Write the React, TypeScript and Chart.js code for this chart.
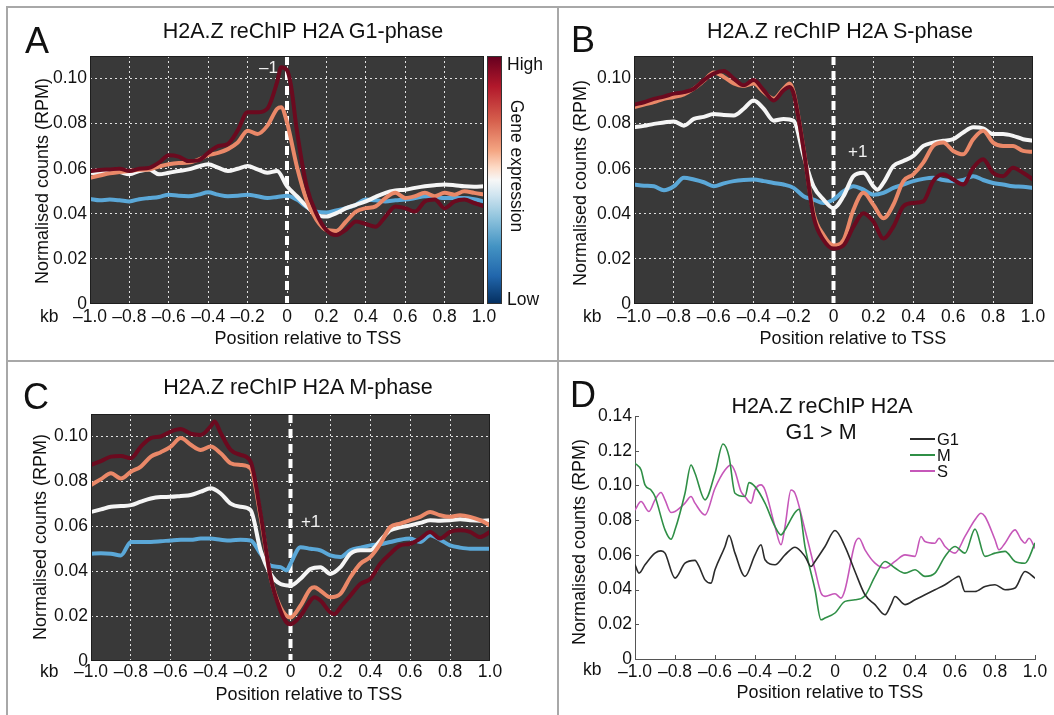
import React, { useEffect, useRef } from "react";
import { Chart, registerables } from "chart.js";

Chart.register(...registerables);

const FONT = '"Liberation Sans", Arial, Helvetica, sans-serif';
const TICK_SIZE = 17.5;
const AXIS_TITLE_SIZE = 18;

// ---------- tick values & labels ----------
const X_TICK_VALUES = [-1, -0.8, -0.6, -0.4, -0.2, 0, 0.2, 0.4, 0.6, 0.8, 1];
const X_TICK_LABELS = ["–1.0", "–0.8", "–0.6", "–0.4", "–0.2", "0", "0.2", "0.4", "0.6", "0.8", "1.0"];
const Y_TICK_VALUES_ABC = [0, 0.02, 0.04, 0.06, 0.08, 0.1];
const Y_TICK_LABELS_ABC = ["0", "0.02", "0.04", "0.06", "0.08", "0.10"];
const Y_TICK_VALUES_D = [0, 0.02, 0.04, 0.06, 0.08, 0.1, 0.12, 0.14];
const Y_TICK_LABELS_D = ["0", "0.02", "0.04", "0.06", "0.08", "0.10", "0.12", "0.14"];
const Y_MAX_ABC = 0.11;
const Y_MAX_D = 0.14;

const X_AXIS_TITLE = "Position relative to TSS";
const Y_AXIS_TITLE = "Normalised counts (RPM)";

// ---------- Panel A: G1-phase  [position kb, RPM] ----------
const A_HIGH = [[-1.0,0.059],[-0.95,0.0594],[-0.9,0.0597],[-0.85,0.060],[-0.8,0.059],[-0.75,0.060],[-0.7,0.0604],[-0.65,0.0627],[-0.6,0.066],[-0.55,0.0654],[-0.5,0.0634],[-0.45,0.0637],[-0.4,0.067],[-0.35,0.070],[-0.3,0.071],[-0.25,0.077],[-0.2,0.085],[-0.15,0.085],[-0.1,0.0866],[-0.05,0.0985],[-0.03,0.105],[0,0.1037],[0.02,0.097],[0.05,0.077],[0.1,0.052],[0.15,0.040],[0.2,0.0328],[0.25,0.0306],[0.3,0.033],[0.35,0.0366],[0.4,0.0355],[0.45,0.0343],[0.5,0.0388],[0.55,0.0433],[0.6,0.0425],[0.65,0.041],[0.7,0.0455],[0.75,0.0463],[0.8,0.0425],[0.85,0.0455],[0.9,0.0463],[0.95,0.0448],[1.0,0.0433]];
const A_MID = [[-1.0,0.056],[-0.95,0.057],[-0.9,0.058],[-0.85,0.0585],[-0.8,0.059],[-0.75,0.0595],[-0.7,0.0597],[-0.65,0.061],[-0.6,0.062],[-0.55,0.0625],[-0.5,0.0627],[-0.45,0.064],[-0.4,0.066],[-0.35,0.067],[-0.3,0.0687],[-0.25,0.0716],[-0.2,0.0769],[-0.15,0.0754],[-0.1,0.079],[-0.05,0.0866],[-0.03,0.0873],[0,0.0806],[0.05,0.061],[0.1,0.046],[0.15,0.0373],[0.2,0.0328],[0.25,0.0324],[0.3,0.0366],[0.35,0.041],[0.4,0.0425],[0.45,0.0433],[0.5,0.047],[0.55,0.0493],[0.6,0.047],[0.65,0.0478],[0.7,0.0493],[0.75,0.0478],[0.8,0.0493],[0.85,0.0485],[0.9,0.050],[0.95,0.0493],[1.0,0.0485]];
const A_NEUTRAL = [[-1.0,0.0582],[-0.95,0.058],[-0.9,0.059],[-0.85,0.0585],[-0.8,0.0575],[-0.75,0.059],[-0.7,0.0597],[-0.65,0.0575],[-0.6,0.0582],[-0.55,0.059],[-0.5,0.0597],[-0.45,0.061],[-0.4,0.062],[-0.35,0.0605],[-0.3,0.059],[-0.25,0.060],[-0.2,0.0612],[-0.15,0.0597],[-0.1,0.0582],[-0.05,0.059],[0,0.0522],[0.05,0.0478],[0.1,0.0433],[0.15,0.0396],[0.2,0.0388],[0.25,0.0403],[0.3,0.0425],[0.35,0.044],[0.4,0.0455],[0.45,0.0475],[0.5,0.0493],[0.55,0.0503],[0.6,0.0507],[0.65,0.0515],[0.7,0.0522],[0.75,0.0527],[0.8,0.053],[0.85,0.0527],[0.9,0.0522],[0.95,0.052],[1.0,0.0522]];
const A_LOW = [[-1.0,0.0466],[-0.95,0.046],[-0.9,0.0463],[-0.85,0.046],[-0.8,0.0455],[-0.75,0.0465],[-0.7,0.047],[-0.65,0.0475],[-0.6,0.0485],[-0.55,0.048],[-0.5,0.0478],[-0.45,0.0485],[-0.4,0.0496],[-0.35,0.0485],[-0.3,0.0478],[-0.25,0.048],[-0.2,0.0485],[-0.15,0.0478],[-0.1,0.047],[-0.05,0.0475],[0,0.048],[0.05,0.0463],[0.1,0.043],[0.15,0.041],[0.2,0.0406],[0.25,0.0415],[0.3,0.0425],[0.35,0.044],[0.4,0.0463],[0.45,0.046],[0.5,0.0455],[0.55,0.046],[0.6,0.0463],[0.65,0.047],[0.7,0.0478],[0.75,0.0475],[0.8,0.047],[0.85,0.047],[0.9,0.047],[0.95,0.0465],[1.0,0.0455]];

// ---------- Panel B: S-phase ----------
const B_HIGH = [[-1.0,0.0884],[-0.95,0.0895],[-0.9,0.091],[-0.85,0.092],[-0.8,0.0933],[-0.75,0.094],[-0.7,0.0955],[-0.65,0.0993],[-0.6,0.1022],[-0.55,0.1033],[-0.5,0.100],[-0.45,0.097],[-0.4,0.0993],[-0.35,0.0948],[-0.3,0.0903],[-0.25,0.0948],[-0.22,0.0963],[-0.2,0.0933],[-0.15,0.0687],[-0.1,0.0388],[-0.05,0.0284],[0,0.0246],[0.05,0.026],[0.1,0.0343],[0.15,0.0403],[0.2,0.0366],[0.25,0.0291],[0.3,0.0343],[0.35,0.0433],[0.4,0.0448],[0.45,0.0455],[0.5,0.0545],[0.55,0.0575],[0.6,0.0552],[0.65,0.053],[0.7,0.0604],[0.75,0.0642],[0.8,0.0582],[0.85,0.0567],[0.9,0.0604],[0.95,0.0582],[1.0,0.0552]];
const B_MID = [[-1.0,0.0873],[-0.95,0.0885],[-0.9,0.0896],[-0.85,0.091],[-0.8,0.0918],[-0.75,0.093],[-0.7,0.0955],[-0.65,0.099],[-0.6,0.1027],[-0.55,0.1007],[-0.5,0.0978],[-0.45,0.0967],[-0.4,0.0978],[-0.35,0.094],[-0.3,0.091],[-0.25,0.0955],[-0.22,0.0978],[-0.2,0.094],[-0.15,0.0687],[-0.1,0.0403],[-0.05,0.0306],[0,0.026],[0.05,0.0284],[0.1,0.0418],[0.15,0.0493],[0.2,0.044],[0.25,0.038],[0.3,0.044],[0.35,0.0545],[0.4,0.0575],[0.45,0.0627],[0.5,0.0701],[0.55,0.0716],[0.6,0.0679],[0.65,0.0664],[0.7,0.0731],[0.75,0.0769],[0.8,0.0716],[0.85,0.0701],[0.9,0.0701],[0.95,0.0679],[1.0,0.0675]];
const B_NEUTRAL = [[-1.0,0.0784],[-0.95,0.079],[-0.9,0.0799],[-0.85,0.0805],[-0.8,0.081],[-0.75,0.0791],[-0.7,0.0821],[-0.65,0.083],[-0.6,0.0843],[-0.55,0.0838],[-0.5,0.0836],[-0.45,0.0866],[-0.4,0.0903],[-0.35,0.0866],[-0.3,0.0813],[-0.25,0.0821],[-0.2,0.0813],[-0.15,0.0657],[-0.1,0.0522],[-0.05,0.0463],[0,0.0425],[0.05,0.0478],[0.1,0.0567],[0.15,0.0582],[0.2,0.0522],[0.22,0.0507],[0.25,0.0537],[0.3,0.0612],[0.35,0.0634],[0.4,0.0657],[0.45,0.0701],[0.5,0.0716],[0.55,0.0724],[0.6,0.0731],[0.65,0.0761],[0.7,0.0784],[0.75,0.0779],[0.8,0.0754],[0.85,0.0754],[0.9,0.0746],[0.95,0.0731],[1.0,0.0724]];
const B_LOW = [[-1.0,0.053],[-0.95,0.0525],[-0.9,0.0522],[-0.85,0.0504],[-0.8,0.0522],[-0.75,0.056],[-0.7,0.0552],[-0.65,0.054],[-0.6,0.0522],[-0.55,0.0535],[-0.5,0.0545],[-0.45,0.055],[-0.4,0.0552],[-0.35,0.0545],[-0.3,0.0537],[-0.25,0.053],[-0.2,0.0515],[-0.15,0.0478],[-0.1,0.0463],[-0.05,0.0448],[0,0.0463],[0.05,0.05],[0.1,0.0522],[0.15,0.0507],[0.2,0.0485],[0.25,0.0493],[0.3,0.0515],[0.35,0.053],[0.4,0.0545],[0.45,0.0555],[0.5,0.056],[0.55,0.055],[0.6,0.0545],[0.65,0.055],[0.7,0.0567],[0.75,0.055],[0.8,0.0537],[0.85,0.053],[0.9,0.0522],[0.95,0.052],[1.0,0.0515]];

// ---------- Panel C: M-phase ----------
const C_HIGH = [[-1.0,0.0873],[-0.95,0.089],[-0.9,0.091],[-0.85,0.0913],[-0.8,0.0903],[-0.75,0.0955],[-0.7,0.0993],[-0.65,0.100],[-0.6,0.1022],[-0.55,0.1033],[-0.5,0.1012],[-0.45,0.1007],[-0.4,0.1045],[-0.38,0.1067],[-0.35,0.1015],[-0.3,0.094],[-0.25,0.0918],[-0.2,0.0888],[-0.15,0.0657],[-0.1,0.0373],[-0.05,0.0224],[-0.02,0.0172],[0,0.0164],[0.05,0.0201],[0.1,0.0269],[0.12,0.0284],[0.15,0.0269],[0.2,0.0216],[0.22,0.0209],[0.25,0.0239],[0.3,0.0291],[0.35,0.0343],[0.4,0.0366],[0.45,0.0433],[0.5,0.0478],[0.55,0.0515],[0.6,0.0522],[0.65,0.0545],[0.7,0.0575],[0.75,0.0545],[0.8,0.0575],[0.85,0.0582],[0.9,0.0575],[0.95,0.0552],[1.0,0.0575]];
const C_MID = [[-1.0,0.0784],[-0.95,0.081],[-0.9,0.0836],[-0.85,0.0813],[-0.8,0.0843],[-0.75,0.0866],[-0.7,0.091],[-0.65,0.093],[-0.6,0.0955],[-0.55,0.0993],[-0.5,0.0963],[-0.45,0.094],[-0.4,0.0955],[-0.35,0.0925],[-0.3,0.0881],[-0.25,0.0873],[-0.2,0.0858],[-0.15,0.0642],[-0.1,0.0373],[-0.05,0.0239],[0,0.0194],[0.05,0.0246],[0.1,0.0321],[0.12,0.0328],[0.15,0.0313],[0.2,0.0284],[0.25,0.0299],[0.3,0.0373],[0.35,0.0433],[0.4,0.0463],[0.45,0.0522],[0.5,0.0597],[0.55,0.0612],[0.6,0.0627],[0.65,0.0642],[0.7,0.0664],[0.75,0.0649],[0.8,0.0642],[0.85,0.0649],[0.9,0.0642],[0.95,0.0627],[1.0,0.0604]];
const C_NEUTRAL = [[-1.0,0.0664],[-0.95,0.0675],[-0.9,0.0687],[-0.85,0.069],[-0.8,0.0694],[-0.75,0.071],[-0.7,0.0724],[-0.65,0.073],[-0.6,0.0731],[-0.55,0.0735],[-0.5,0.0739],[-0.45,0.0754],[-0.4,0.0769],[-0.35,0.0746],[-0.3,0.0701],[-0.25,0.0687],[-0.2,0.0672],[-0.15,0.0493],[-0.1,0.0388],[-0.05,0.0343],[0,0.0336],[0.05,0.0366],[0.1,0.041],[0.15,0.0418],[0.2,0.0388],[0.25,0.0418],[0.3,0.0478],[0.35,0.0493],[0.4,0.0493],[0.45,0.0537],[0.5,0.0582],[0.55,0.0595],[0.6,0.0604],[0.65,0.0615],[0.7,0.0627],[0.75,0.0625],[0.8,0.0627],[0.85,0.0631],[0.9,0.0627],[0.95,0.0625],[1.0,0.0627]];
const C_LOW = [[-1.0,0.0478],[-0.95,0.048],[-0.9,0.0478],[-0.85,0.047],[-0.8,0.053],[-0.75,0.053],[-0.7,0.053],[-0.65,0.0533],[-0.6,0.0537],[-0.55,0.054],[-0.5,0.054],[-0.45,0.0545],[-0.4,0.0545],[-0.35,0.054],[-0.3,0.0537],[-0.25,0.054],[-0.2,0.0537],[-0.15,0.0478],[-0.1,0.0425],[-0.05,0.0418],[-0.02,0.0403],[0,0.0433],[0.05,0.0507],[0.1,0.05],[0.15,0.0493],[0.2,0.047],[0.25,0.0463],[0.3,0.0493],[0.35,0.0505],[0.4,0.0515],[0.45,0.052],[0.5,0.053],[0.55,0.054],[0.6,0.0545],[0.65,0.053],[0.7,0.056],[0.75,0.054],[0.8,0.0515],[0.85,0.0505],[0.9,0.05],[0.95,0.05],[1.0,0.05]];

// ---------- Panel D: G1 > M ----------
const D_G1 = [[-1.0,0.0543],[-0.98,0.0495],[-0.95,0.0543],[-0.9,0.061],[-0.87,0.0623],[-0.85,0.061],[-0.8,0.0466],[-0.75,0.0552],[-0.7,0.0568],[-0.68,0.0533],[-0.65,0.0456],[-0.62,0.0437],[-0.6,0.0514],[-0.55,0.0648],[-0.53,0.0712],[-0.5,0.061],[-0.45,0.0476],[-0.4,0.060],[-0.37,0.0658],[-0.35,0.0572],[-0.3,0.0543],[-0.25,0.060],[-0.2,0.0644],[-0.15,0.0591],[-0.12,0.0533],[-0.1,0.0562],[-0.05,0.0648],[0,0.074],[0.05,0.0648],[0.1,0.0504],[0.15,0.037],[0.2,0.0313],[0.25,0.0255],[0.28,0.0313],[0.3,0.036],[0.35,0.0313],[0.4,0.0341],[0.45,0.037],[0.5,0.0399],[0.55,0.0428],[0.6,0.0466],[0.62,0.0476],[0.65,0.0389],[0.7,0.0389],[0.75,0.0418],[0.8,0.0428],[0.85,0.0399],[0.9,0.0409],[0.95,0.0504],[1.0,0.0466]];
const D_M = [[-1.0,0.1128],[-0.97,0.109],[-0.95,0.1003],[-0.92,0.0974],[-0.9,0.0936],[-0.85,0.0744],[-0.82,0.069],[-0.8,0.0744],[-0.75,0.0955],[-0.72,0.1118],[-0.7,0.107],[-0.65,0.0917],[-0.6,0.107],[-0.56,0.1239],[-0.53,0.1166],[-0.5,0.0955],[-0.45,0.0936],[-0.43,0.1016],[-0.4,0.0993],[-0.35,0.0898],[-0.3,0.0763],[-0.27,0.0715],[-0.25,0.0744],[-0.2,0.0844],[-0.18,0.0863],[-0.15,0.0648],[-0.1,0.0399],[-0.07,0.0226],[-0.05,0.0236],[0,0.0265],[0.05,0.0332],[0.1,0.0341],[0.15,0.0364],[0.2,0.0476],[0.25,0.0562],[0.3,0.0524],[0.35,0.0495],[0.4,0.0514],[0.45,0.0476],[0.5,0.0495],[0.55,0.0591],[0.6,0.0648],[0.65,0.061],[0.7,0.0748],[0.75,0.0591],[0.8,0.061],[0.85,0.062],[0.9,0.0562],[0.95,0.0552],[1.0,0.0667]];
const D_S = [[-1.0,0.0859],[-0.97,0.0907],[-0.93,0.085],[-0.9,0.0917],[-0.87,0.0959],[-0.85,0.0917],[-0.82,0.0844],[-0.8,0.085],[-0.75,0.0898],[-0.72,0.0936],[-0.7,0.0898],[-0.65,0.083],[-0.6,0.0984],[-0.55,0.1089],[-0.52,0.1118],[-0.5,0.108],[-0.47,0.0965],[-0.45,0.0936],[-0.42,0.0898],[-0.4,0.0974],[-0.37,0.1003],[-0.35,0.0974],[-0.3,0.0763],[-0.27,0.0658],[-0.25,0.0763],[-0.22,0.0974],[-0.2,0.0955],[-0.15,0.0744],[-0.1,0.0514],[-0.07,0.038],[-0.05,0.0361],[0,0.0376],[0.03,0.0351],[0.05,0.0399],[0.1,0.0667],[0.12,0.0696],[0.15,0.0629],[0.2,0.0552],[0.25,0.0524],[0.3,0.0562],[0.35,0.060],[0.4,0.0591],[0.43,0.0706],[0.45,0.0677],[0.5,0.0667],[0.52,0.0696],[0.55,0.0648],[0.6,0.061],[0.65,0.0706],[0.7,0.0802],[0.73,0.084],[0.75,0.0821],[0.8,0.0687],[0.82,0.0629],[0.85,0.0667],[0.9,0.0744],[0.93,0.069],[0.95,0.0667],[0.97,0.0696],[1.0,0.0639]];

// ---------- colours ----------
const COL_HIGH = "#6b0a1f";
const COL_MID = "#ea8868";
const COL_NEUTRAL = "#f5f5f5";
const COL_LOW = "#5ba8d8";
const COL_G1 = "#2b2b2b";
const COL_M = "#2f8f46";
const COL_S = "#c657b9";

const darkPlotPlugin = {
  id: "darkPlot",
  beforeDraw(chart: any) {
    const { ctx, chartArea: a } = chart;
    ctx.save();
    ctx.fillStyle = "#393939";
    ctx.fillRect(a.left, a.top, a.right - a.left, a.bottom - a.top);
    ctx.restore();
  },
  beforeDatasetsDraw(chart: any) {
    const { ctx, chartArea: a } = chart;
    const x0 = chart.scales.x.getPixelForValue(0);
    ctx.save();
    ctx.strokeStyle = "#ffffff";
    ctx.lineWidth = 4;
    ctx.setLineDash([9, 6]);
    ctx.beginPath();
    ctx.moveTo(x0, a.top);
    ctx.lineTo(x0, a.bottom);
    ctx.stroke();
    ctx.restore();
  },
  afterDraw(chart: any) {
    const { ctx, chartArea: a } = chart;
    ctx.save();
    ctx.strokeStyle = "#1e1e1e";
    ctx.lineWidth = 1;
    ctx.strokeRect(a.left + 0.5, a.top + 0.5, a.right - a.left - 1, a.bottom - a.top - 1);
    ctx.restore();
  },
};

const innerTicksPlugin = {
  id: "innerTicks",
  afterDraw(chart: any) {
    const { ctx, chartArea: a, scales } = chart;
    ctx.save();
    ctx.strokeStyle = "#555";
    ctx.lineWidth = 1;
    ctx.beginPath();
    scales.y.ticks.forEach((t: any) => {
      const y = Math.round(scales.y.getPixelForValue(t.value)) + 0.5;
      ctx.moveTo(a.left, y);
      ctx.lineTo(a.left + 4, y);
    });
    scales.x.ticks.forEach((t: any) => {
      const x = Math.round(scales.x.getPixelForValue(t.value)) + 0.5;
      ctx.moveTo(x, a.bottom);
      ctx.lineTo(x, a.bottom - 4);
    });
    ctx.stroke();
    ctx.restore();
  },
};

type Series = { data: number[][]; color: string; width: number };
type PanelSpec = {
  canvas: { left: number; top: number; width: number; height: number };
  area: { L: number; T: number; R: number; B: number };
  dark: boolean;
  yMax: number;
  yTicks: number[];
  yLabels: string[];
  xTickY: number;
  series: Series[];
};

const X_AXIS_H = 50;

function PanelChart({ spec }: { spec: PanelSpec }) {
  const ref = useRef<HTMLCanvasElement | null>(null);
  const cv = spec.canvas;
  useEffect(() => {
    const a = spec.area;
    const yAxisWidth = a.L - cv.left;
    const padTop = a.T - cv.top;
    const padRight = cv.left + cv.width - a.R;
    const padBottom = cv.top + cv.height - a.B - X_AXIS_H;
    const tickLH = TICK_SIZE * 1.2;
    const xTickPad = spec.xTickY - a.B - tickLH / 2;

    const gridOpts = spec.dark
      ? { display: true, color: "rgba(255,255,255,0.85)", lineWidth: 1, drawTicks: false }
      : { display: false, drawTicks: false };
    const borderOpts = spec.dark
      ? { display: false, dash: [2, 3] }
      : { display: true, color: "#555", width: 1 };

    const chart = new Chart(ref.current as HTMLCanvasElement, {
      type: "line",
      data: {
        datasets: spec.series.map((s) => ({
          data: s.data.map(([x, y]) => ({ x, y })),
          borderColor: s.color,
          borderWidth: s.width,
          pointRadius: 0,
          fill: false,
          cubicInterpolationMode: "monotone",
          borderCapStyle: "round",
          borderJoinStyle: "round",
        })),
      },
      options: {
        responsive: false,
        animation: false,
        devicePixelRatio: 1,
        events: [],
        layout: { padding: { left: 0, top: padTop, right: padRight, bottom: padBottom } },
        plugins: { legend: { display: false }, tooltip: { enabled: false }, title: { display: false } },
        scales: {
          x: {
            type: "linear",
            min: -1,
            max: 1,
            afterFit: (s: any) => { s.height = X_AXIS_H; },
            afterBuildTicks: (s: any) => { s.ticks = X_TICK_VALUES.map((v) => ({ value: v })); },
            ticks: {
              callback: (_v: any, i: number) => X_TICK_LABELS[i],
              padding: xTickPad,
              maxRotation: 0,
              minRotation: 0,
              autoSkip: false,
              color: "#111",
              font: { family: FONT, size: TICK_SIZE },
            },
            grid: gridOpts,
            border: borderOpts,
            title: { display: false },
          },
          y: {
            type: "linear",
            min: 0,
            max: spec.yMax,
            afterFit: (s: any) => { s.width = yAxisWidth; },
            afterBuildTicks: (s: any) => { s.ticks = spec.yTicks.map((v) => ({ value: v })); },
            ticks: {
              callback: (_v: any, i: number) => spec.yLabels[i],
              padding: 3,
              autoSkip: false,
              color: "#111",
              font: { family: FONT, size: TICK_SIZE },
            },
            grid: gridOpts,
            border: borderOpts,
            title: { display: false },
          },
        },
      } as any,
      plugins: spec.dark ? [darkPlotPlugin] : [innerTicksPlugin],
    });
    return () => chart.destroy();
  }, []);
  return (
    <canvas
      ref={ref}
      width={cv.width}
      height={cv.height}
      style={{ position: "absolute", left: cv.left, top: cv.top, width: cv.width, height: cv.height }}
    />
  );
}

const expressionSeries = (high: number[][], mid: number[][], neutral: number[][], low: number[][]): Series[] => [
  { data: high, color: COL_HIGH, width: 4 },
  { data: mid, color: COL_MID, width: 4 },
  { data: neutral, color: COL_NEUTRAL, width: 4 },
  { data: low, color: COL_LOW, width: 4 },
];

const PANELS: PanelSpec[] = [
  {
    canvas: { left: 8, top: 8, width: 549, height: 352 },
    area: { L: 90, T: 56, R: 484, B: 304 },
    dark: true, yMax: Y_MAX_ABC, yTicks: Y_TICK_VALUES_ABC, yLabels: Y_TICK_LABELS_ABC,
    xTickY: 317,
    series: expressionSeries(A_HIGH, A_MID, A_NEUTRAL, A_LOW),
  },
  {
    canvas: { left: 559, top: 8, width: 495, height: 352 },
    area: { L: 634, T: 56, R: 1033, B: 304 },
    dark: true, yMax: Y_MAX_ABC, yTicks: Y_TICK_VALUES_ABC, yLabels: Y_TICK_LABELS_ABC,
    xTickY: 317,
    series: expressionSeries(B_HIGH, B_MID, B_NEUTRAL, B_LOW),
  },
  {
    canvas: { left: 8, top: 363, width: 549, height: 352 },
    area: { L: 91, T: 414, R: 490, B: 661 },
    dark: true, yMax: Y_MAX_ABC, yTicks: Y_TICK_VALUES_ABC, yLabels: Y_TICK_LABELS_ABC,
    xTickY: 672,
    series: expressionSeries(C_HIGH, C_MID, C_NEUTRAL, C_LOW),
  },
  {
    canvas: { left: 559, top: 363, width: 495, height: 352 },
    area: { L: 635, T: 416, R: 1035, B: 659 },
    dark: false, yMax: Y_MAX_D, yTicks: Y_TICK_VALUES_D, yLabels: Y_TICK_LABELS_D,
    xTickY: 672,
    series: [
      { data: D_G1, color: COL_G1, width: 1.6 },
      { data: D_M, color: COL_M, width: 1.6 },
      { data: D_S, color: COL_S, width: 1.6 },
    ],
  },
];

// axis-title placement (centre x / centre y on the page)
const AXIS_TITLE_POS = [
  { xTitle: [308, 338], yTitle: [42, 181] },
  { xTitle: [853, 338], yTitle: [580, 183] },
  { xTitle: [309, 694], yTitle: [40, 537] },
  { xTitle: [830, 692], yTitle: [579, 542] },
];

function Txt(props: { x: number; y: number; size: number; children: any; color?: string; center?: boolean }) {
  const { x, y, size, center, color } = props;
  const base: any = {
    position: "absolute",
    top: y,
    fontSize: size,
    lineHeight: `${size}px`,
    whiteSpace: "nowrap",
    color: color || "#111",
    fontFamily: FONT,
  };
  if (center) {
    base.left = x - 250;
    base.width = 500;
    base.textAlign = "center";
  } else {
    base.left = x;
  }
  return <div style={base}>{props.children}</div>;
}

function RotText({ cx, cy, size, deg, children }: { cx: number; cy: number; size: number; deg: number; children: any }) {
  return (
    <div
      style={{
        position: "absolute",
        left: cx,
        top: cy,
        transform: `translate(-50%, -50%) rotate(${deg}deg)`,
        fontSize: size,
        lineHeight: `${size}px`,
        whiteSpace: "nowrap",
        color: "#111",
        fontFamily: FONT,
      }}
    >
      {children}
    </div>
  );
}

const RDBU = "linear-gradient(to bottom, #67001f 0%, #b2182b 12%, #d6604d 26%, #f4a582 38%, #fddbc7 45%, #f7f7f7 50%, #d1e5f0 56%, #92c5de 65%, #4393c3 77%, #2166ac 89%, #053061 100%)";

export default function App() {
  const line = (s: any) => <div style={{ position: "absolute", background: "#a8a8a8", ...s }} />;
  return (
    <div style={{ position: "absolute", left: 0, top: 0, width: 1054, height: 715, background: "#fff", overflow: "hidden", fontFamily: FONT }}>
      {line({ left: 7, top: 6, width: 1047, height: 2 })}
      {line({ left: 6, top: 6, width: 2, height: 709 })}
      {line({ left: 557, top: 6, width: 2, height: 709 })}
      {line({ left: 6, top: 360, width: 1048, height: 2 })}

      {PANELS.map((p, i) => <PanelChart key={i} spec={p} />)}

      {/* axis titles */}
      {AXIS_TITLE_POS.map((p, i) => (
        <React.Fragment key={"ax" + i}>
          <Txt x={p.xTitle[0]} y={p.xTitle[1] - AXIS_TITLE_SIZE / 2} size={AXIS_TITLE_SIZE} center>{X_AXIS_TITLE}</Txt>
          <RotText cx={p.yTitle[0]} cy={p.yTitle[1]} size={AXIS_TITLE_SIZE} deg={-90}>{Y_AXIS_TITLE}</RotText>
        </React.Fragment>
      ))}

      {/* panel letters */}
      <Txt x={25} y={22.5} size={36}>A</Txt>
      <Txt x={571} y={21.5} size={36}>B</Txt>
      <Txt x={23} y={378.5} size={36}>C</Txt>
      <Txt x={570} y={376.5} size={36}>D</Txt>

      {/* titles */}
      <Txt x={303} y={21.3} size={21.5} center>H2A.Z reChIP H2A G1-phase</Txt>
      <Txt x={840} y={21} size={21.5} center>H2A.Z reChIP H2A S-phase</Txt>
      <Txt x={298} y={376.5} size={21.5} center>H2A.Z reChIP H2A M-phase</Txt>
      <Txt x={822} y={395.5} size={21.5} center>H2A.Z reChIP H2A</Txt>
      <Txt x={821} y={421.5} size={21.5} center>G1 &gt; M</Txt>

      {/* kb labels */}
      <Txt x={40} y={308} size={17.5}>kb</Txt>
      <Txt x={583} y={308} size={17.5}>kb</Txt>
      <Txt x={40} y={663} size={17.5}>kb</Txt>
      <Txt x={583} y={661} size={17.5}>kb</Txt>

      {/* nucleosome annotations */}
      <Txt x={259} y={59} size={17} color="#f2f2f2">–1</Txt>
      <Txt x={848} y={143} size={17} color="#f2f2f2">+1</Txt>
      <Txt x={301} y={513} size={17} color="#f2f2f2">+1</Txt>

      {/* colour bar */}
      <div style={{ position: "absolute", left: 487, top: 56, width: 15, height: 248, background: RDBU, border: "1px solid #333", boxSizing: "border-box" }} />
      <Txt x={507} y={55.5} size={17.5}>High</Txt>
      <Txt x={507} y={290.5} size={17.5}>Low</Txt>
      <RotText cx={516} cy={166} size={17.5} deg={90}>Gene expression</RotText>

      {/* panel D legend */}
      {[["G1", COL_G1, 439], ["M", COL_M, 455], ["S", COL_S, 471]].map(([t, c, y]: any) => (
        <React.Fragment key={t}>
          <div style={{ position: "absolute", left: 910, top: y - 1, width: 25, height: 2.2, background: c }} />
          <Txt x={937} y={y - 8.5} size={16.5}>{t}</Txt>
        </React.Fragment>
      ))}
    </div>
  );
}
